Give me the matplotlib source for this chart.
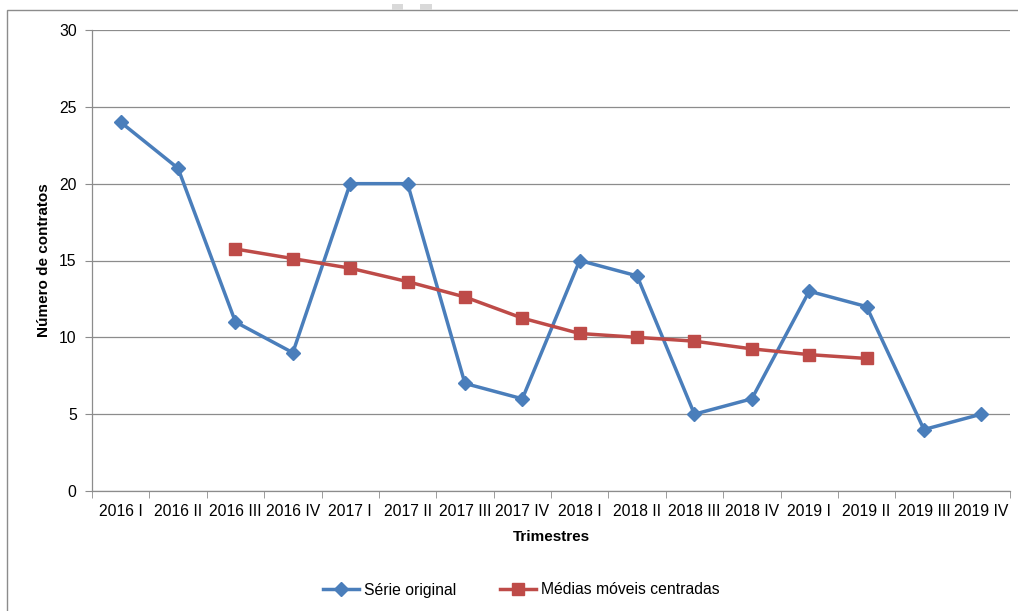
import matplotlib
matplotlib.use("Agg")
import matplotlib.pyplot as plt
from matplotlib.patches import Rectangle
from matplotlib.ticker import FixedLocator

# Dados do gráfico
trimestres = ["2016 I", "2016 II", "2016 III", "2016 IV",
              "2017 I", "2017 II", "2017 III", "2017 IV",
              "2018 I", "2018 II", "2018 III", "2018 IV",
              "2019 I", "2019 II", "2019 III", "2019 IV"]
serie_original = [24, 21, 11, 9, 20, 20, 7, 6, 15, 14, 5, 6, 13, 12, 4, 5]
# médias móveis centradas começam no 3º trimestre e vão até o 14º
mm_inicio = 2
medias_moveis = [15.75, 15.125, 14.5, 13.625, 12.625, 11.25,
                 10.25, 10.0, 9.75, 9.25, 8.875, 8.625]

AZUL = "#4A7EBB"
VERMELHO = "#BE4B48"
CINZA = "#8C8C8C"

plt.rcParams["font.family"] = ["Liberation Sans", "DejaVu Sans"]

fig = plt.figure(figsize=(10.18, 6.11), dpi=100)
ax = fig.add_axes([92 / 1018, 1 - 491 / 611, (1010 - 92) / 1018, (491 - 30) / 611])

x = list(range(len(trimestres)))
x_mm = list(range(mm_inicio, mm_inicio + len(medias_moveis)))

ax.plot(x, serie_original, color=AZUL, lw=2.5, marker="D", ms=7,
        label="Série original", zorder=3)
ax.plot(x_mm, medias_moveis, color=VERMELHO, lw=2.5, marker="s", ms=8.5,
        label="Médias móveis centradas", zorder=4)

ax.set_xlim(-0.5, len(trimestres) - 0.5)
ax.set_ylim(0, 30)
ax.set_yticks(range(0, 31, 5))
ax.set_xticks(x)
ax.set_xticklabels(trimestres)
ax.xaxis.set_minor_locator(FixedLocator([i - 0.5 for i in range(len(trimestres) + 1)]))
ax.tick_params(axis="x", which="major", length=0, pad=9, labelsize=11.3)
ax.tick_params(axis="x", which="minor", length=5, color=CINZA, direction="out")
ax.tick_params(axis="y", length=5, color=CINZA, labelsize=11.3, pad=6)

ax.grid(axis="y", color=CINZA, lw=0.9)
ax.set_axisbelow(True)
for s in ["top", "right"]:
    ax.spines[s].set_visible(False)
for s in ["left", "bottom"]:
    ax.spines[s].set_color(CINZA)
    ax.spines[s].set_linewidth(0.9)

ax.set_xlabel("Trimestres", fontweight="bold", fontsize=11, labelpad=8)
ax.set_ylabel("Número de contratos", fontweight="bold", fontsize=11, labelpad=6)

leg = fig.legend(loc="center", bbox_to_anchor=(521 / 1018, 1 - 590 / 611), ncol=2,
                 frameon=False, fontsize=11.3, handlelength=2.3, handletextpad=0.3,
                 columnspacing=2.8)

# moldura da área do gráfico
fig.patches.append(Rectangle((7 / 1018, -0.1), 1.2, 1 - 10 / 611 + 0.1,
                             transform=fig.transFigure, fill=False,
                             edgecolor=CINZA, lw=1.0))
for x0, w in [(392, 11), (420, 12)]:
    fig.patches.append(Rectangle((x0 / 1018, 1 - 10 / 611), w / 1018, 6 / 611,
                                 transform=fig.transFigure, color="#D9D9D9", lw=0))

fig.savefig("out.png", dpi=100)
plt.close(fig)
